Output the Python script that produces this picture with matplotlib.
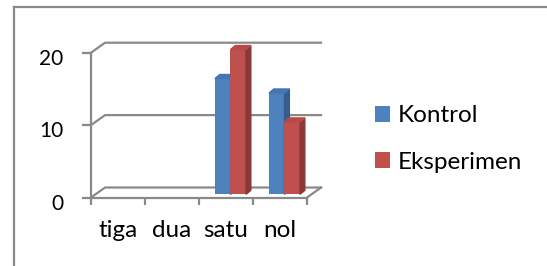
import matplotlib
matplotlib.use('Agg')
from matplotlib import pyplot as plt
from matplotlib.patches import Polygon
from matplotlib.lines import Line2D
from matplotlib.transforms import ScaledTranslation

# data
kategori = ['tiga', 'dua', 'satu', 'nol']
kontrol = [0, 0, 16, 14]
eksperimen = [0, 0, 20, 10]
seri = ['Kontrol', 'Eksperimen']
yticks = [0, 10, 20]

biru, biru_sisi, biru_atas = '#4F81BD', '#385D8A', '#4676B0'
merah, merah_sisi, merah_atas = '#C0504D', '#8C3836', '#B64A47'
abu = '#898989'

plt.rcParams['font.family'] = ['Lato', 'DejaVu Sans']

fig = plt.figure(figsize=(5.47, 2.66), dpi=100)
ax = fig.add_axes([80/547, 51/266, 250/547, 185/266])
ax.set_xlim(-11/54, 239/54)
ax.set_ylim(-17.5/7.24, 167.5/7.24)
ax.patch.set_visible(False)

dx, dy = 0.26, 1.38     # kedalaman dinding belakang
bdx, bdy = 0.09, 0.55   # kedalaman batang
lebar = 0.287
geser = 0.296
n = len(kategori)

# dinding belakang + lantai
for v in yticks:
    ax.plot([0, dx, n + dx], [v, v + dy, v + dy], color=abu, lw=1.6, zorder=1)
ax.plot([n, n + dx], [0, dy], color=abu, lw=1.6, zorder=1)

# batang semu 3D
def batang(xs, vals, warna, sisi, atas, label):
    bars = ax.bar(xs, vals, width=lebar, bottom=bdy * 0.8, align='edge',
                  color=warna, zorder=3, label=label)
    for x, v in zip(xs, vals):
        if v == 0:
            continue
        y0, y1 = bdy * 0.8, bdy * 0.8 + v
        ax.add_patch(Polygon([(x + lebar, y0), (x + lebar + bdx, y0 + bdy),
                              (x + lebar + bdx, y1 + bdy), (x + lebar, y1)],
                             closed=True, color=sisi, zorder=3))
        ax.add_patch(Polygon([(x, y1), (x + bdx, y1 + bdy),
                              (x + lebar + bdx, y1 + bdy), (x + lebar, y1)],
                             closed=True, color=atas, zorder=3))
    return bars

xs = [i + geser for i in range(n)]
b1 = batang(xs, kontrol, biru, biru_sisi, biru_atas, seri[0])
b2 = batang([x + lebar for x in xs], eksperimen, merah, merah_sisi, merah_atas, seri[1])

# sumbu
for s in ['top', 'right']:
    ax.spines[s].set_visible(False)
ax.spines['left'].set_position(('data', 0))
ax.spines['bottom'].set_position(('data', 0))
ax.spines['left'].set_bounds(0, 20)
ax.spines['bottom'].set_bounds(0, n)
for s in ['left', 'bottom']:
    ax.spines[s].set_color(abu)
    ax.spines[s].set_linewidth(1.6)
    ax.spines[s].set_zorder(4)

ax.set_yticks(yticks)
ax.tick_params(axis='y', length=6.5, width=1.6, color=abu, pad=13.5, labelsize=15)
for lab in ax.get_yticklabels():
    lab.set_transform(lab.get_transform() + ScaledTranslation(0, -3/72, fig.dpi_scale_trans))

ax.set_xticks(range(n + 1))
ax.set_xticklabels([])
ax.tick_params(axis='x', which='major', length=5, width=1.6, color=abu)
ax.set_xticks([i + 0.5 for i in range(n)], minor=True)
ax.set_xticklabels(kategori, minor=True)
ax.tick_params(axis='x', which='minor', length=0, pad=16.5, labelsize=17.5)

fig.legend(handles=[b1, b2], labels=seri, loc='center left',
           bbox_to_anchor=(375/547, 1 - 139/266), frameon=False,
           handlelength=0.6, handleheight=0.62, handletextpad=0.35,
           labelspacing=1.04, borderpad=0, borderaxespad=0, fontsize=17.5)

# bingkai
fig.add_artist(Line2D([14/547, 1], [1 - 7/266] * 2, color=abu, lw=1.6))
fig.add_artist(Line2D([14/547] * 2, [0, 1 - 7/266], color=abu, lw=1.6))

fig.savefig('out.png', dpi=100)
